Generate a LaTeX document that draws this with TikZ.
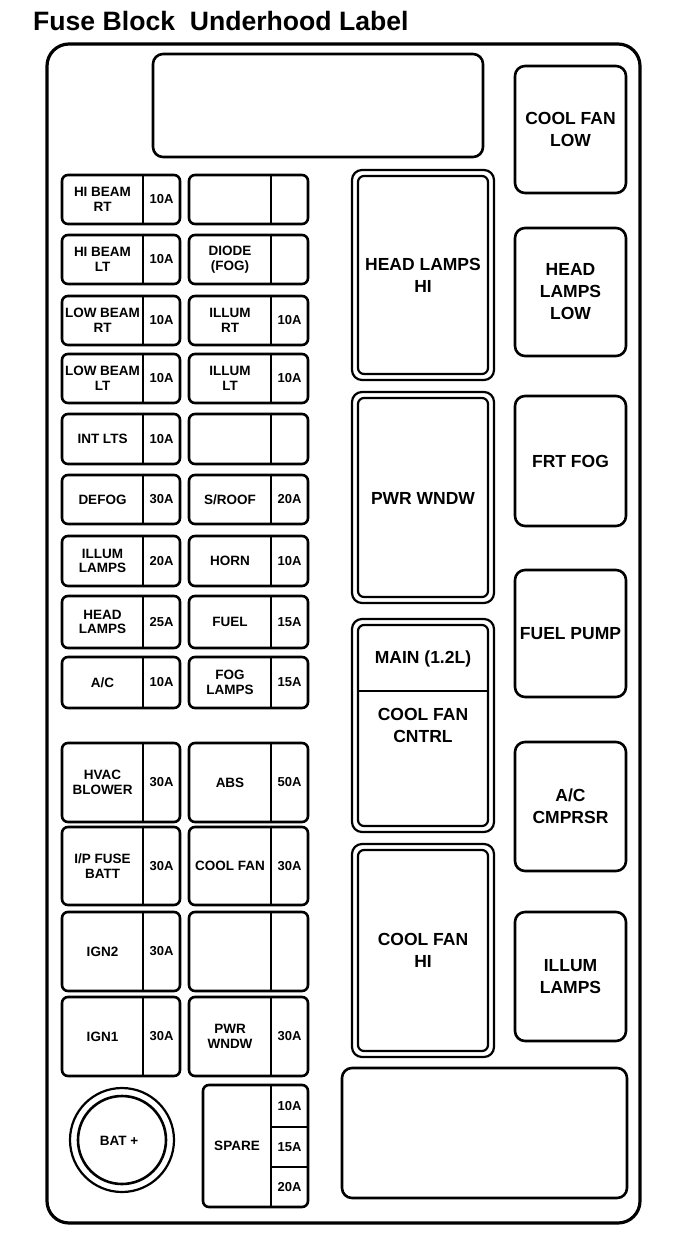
\documentclass[tikz,border=0pt]{standalone}
\usepackage{fontspec}
\setmainfont{Liberation Sans}
\tikzset{
  frame/.style={line width=3.2pt, rounded corners=22pt},
  bigbox/.style={line width=2.6pt, rounded corners=10pt},
  fusebox/.style={line width=2.6pt, rounded corners=6pt},
  divline/.style={line width=2.6pt},
  ringouter/.style={line width=2.2pt, rounded corners=10pt},
  ringinner/.style={line width=2.2pt, rounded corners=6pt},
  small/.style={font=\fontsize{13.5}{14.5}\selectfont\bfseries, align=center, inner sep=0pt},
  amp/.style={font=\fontsize{13}{14}\selectfont\bfseries, inner sep=0pt},
  big/.style={font=\fontsize{17.5}{22}\selectfont\bfseries, align=center, inner sep=0pt},
  titletext/.style={font=\fontsize{26.6}{30}\selectfont\bfseries, inner sep=0pt, anchor=base west},
}
% #1 name, #2 x1, #3 y1, #4 x2, #5 y2, #6 divider x, #7 label, #8 amp
\newcommand{\fusecell}[8]{%
  \draw[fusebox] (#2,#3) rectangle (#4,#5);
  \draw[divline] (#6,#3) -- (#6,#5);
  \node[small] (#1L) at ({(#2+#6)/2},{(#3+#5)/2}) {#7};
  \node[amp] (#1A) at ({(#6+#4)/2},{(#3+#5)/2}) {#8};
}
% #1 name, #2 x1, #3 y1, #4 x2, #5 y2 (double box)
\newcommand{\relaybox}[5]{%
  \draw[ringouter] (#2,#3) rectangle (#4,#5);
  \draw[ringinner] ({#2+6},{#3+6}) rectangle ({#4-6},{#5-6});
}
\begin{document}
\begin{tikzpicture}[x=1pt,y=-1pt]
\useasboundingbox (0,0) rectangle (688,1244);
\node[titletext] (title) at (33,31) {Fuse Block\ \ Underhood Label};
% outer frame
\draw[frame] (47,44) rectangle (640,1223);
% top empty box
\draw[bigbox] (153,54) rectangle (483,157);
% right column
\draw[bigbox] (515,66) rectangle (626,193);
\node[big] (coolfanlow) at (570.5,129.5) {COOL FAN\\LOW};
\draw[bigbox] (515,228) rectangle (626,356);
\node[big] (headlampslow) at (570.5,292) {HEAD\\LAMPS\\LOW};
\draw[bigbox] (515,396) rectangle (626,526);
\node[big] (frtfog) at (570.5,461) {FRT FOG};
\draw[bigbox] (515,570) rectangle (626,697);
\node[big] (fuelpump) at (570.5,634) {FUEL PUMP};
\draw[bigbox] (515,742) rectangle (626,871);
\node[big] (accmprsr) at (570.5,806) {A/C\\CMPRSR};
\draw[bigbox] (515,912) rectangle (626,1041);
\node[big] (illumlampsR) at (570.5,977) {ILLUM\\LAMPS};
% bottom right empty box
\draw[bigbox] (342,1068) rectangle (627,1198);
% middle column relays
\relaybox{hlhi}{352}{170}{494}{380}
\node[big] (headlampshi) at (423,275) {HEAD LAMPS\\HI};
\relaybox{pw}{352}{392}{494}{603}
\node[big] (pwrwndwR) at (423,498) {PWR WNDW};
\relaybox{main}{352}{619}{494}{832}
\draw[divline] (358,691) -- (488,691);
\node[big] (mainfuse) at (423,659) {MAIN (1.2L)};
\node[big] (coolfancntrl) at (423,725) {COOL FAN\\CNTRL};
\relaybox{cfhi}{352}{844}{494}{1057}
\node[big] (coolfanhi) at (423,950) {COOL FAN\\HI};
% left fuse columns
\fusecell{a1}{62}{175}{180}{224}{143}{HI BEAM\\RT}{10A}
\fusecell{b1}{189}{175}{308}{224}{271}{}{}
\fusecell{a2}{62}{235}{180}{284}{143}{HI BEAM\\LT}{10A}
\fusecell{b2}{189}{235}{308}{284}{271}{DIODE\\(FOG)}{}
\fusecell{a3}{62}{296}{180}{345}{143}{LOW BEAM\\RT}{10A}
\fusecell{b3}{189}{296}{308}{345}{271}{ILLUM\\RT}{10A}
\fusecell{a4}{62}{354}{180}{403}{143}{LOW BEAM\\LT}{10A}
\fusecell{b4}{189}{354}{308}{403}{271}{ILLUM\\LT}{10A}
\fusecell{a5}{62}{414}{180}{464}{143}{INT LTS}{10A}
\fusecell{b5}{189}{414}{308}{464}{271}{}{}
\fusecell{a6}{62}{475}{180}{524}{143}{DEFOG}{30A}
\fusecell{b6}{189}{475}{308}{524}{271}{S/ROOF}{20A}
\fusecell{a7}{62}{536}{180}{586}{143}{ILLUM\\LAMPS}{20A}
\fusecell{b7}{189}{536}{308}{586}{271}{HORN}{10A}
\fusecell{a8}{62}{596}{180}{648}{143}{HEAD\\LAMPS}{25A}
\fusecell{b8}{189}{596}{308}{648}{271}{FUEL}{15A}
\fusecell{a9}{62}{657}{180}{708}{143}{A/C}{10A}
\fusecell{b9}{189}{657}{308}{708}{271}{FOG\\LAMPS}{15A}
\fusecell{a10}{62}{743}{180}{822}{143}{HVAC\\BLOWER}{30A}
\fusecell{b10}{189}{743}{308}{822}{271}{ABS}{50A}
\fusecell{a11}{62}{827}{180}{905}{143}{I/P FUSE\\BATT}{30A}
\fusecell{b11}{189}{827}{308}{905}{271}{COOL FAN}{30A}
\fusecell{a12}{62}{912}{180}{991}{143}{IGN2}{30A}
\fusecell{b12}{189}{912}{308}{991}{271}{}{}
\fusecell{a13}{62}{997}{180}{1076}{143}{IGN1}{30A}
\fusecell{b13}{189}{997}{308}{1076}{271}{PWR\\WNDW}{30A}
% spare block
\draw[fusebox] (203,1085) rectangle (308,1207);
\draw[divline] (271,1085) -- (271,1207);
\draw[divline] (271,1127) -- (308,1127);
\draw[divline] (271,1167) -- (308,1167);
\node[small] (spare) at (237,1146) {SPARE};
\node[amp] (sp10) at (289.5,1106) {10A};
\node[amp] (sp15) at (289.5,1147) {15A};
\node[amp] (sp20) at (289.5,1187) {20A};
% battery terminal
\draw[line width=2.2pt] (122,1140) circle[radius=52];
\draw[line width=2.6pt] (122,1140) circle[radius=44];
\node[small] (batplus) at (119,1141) {BAT +};
\end{tikzpicture}
\end{document}
